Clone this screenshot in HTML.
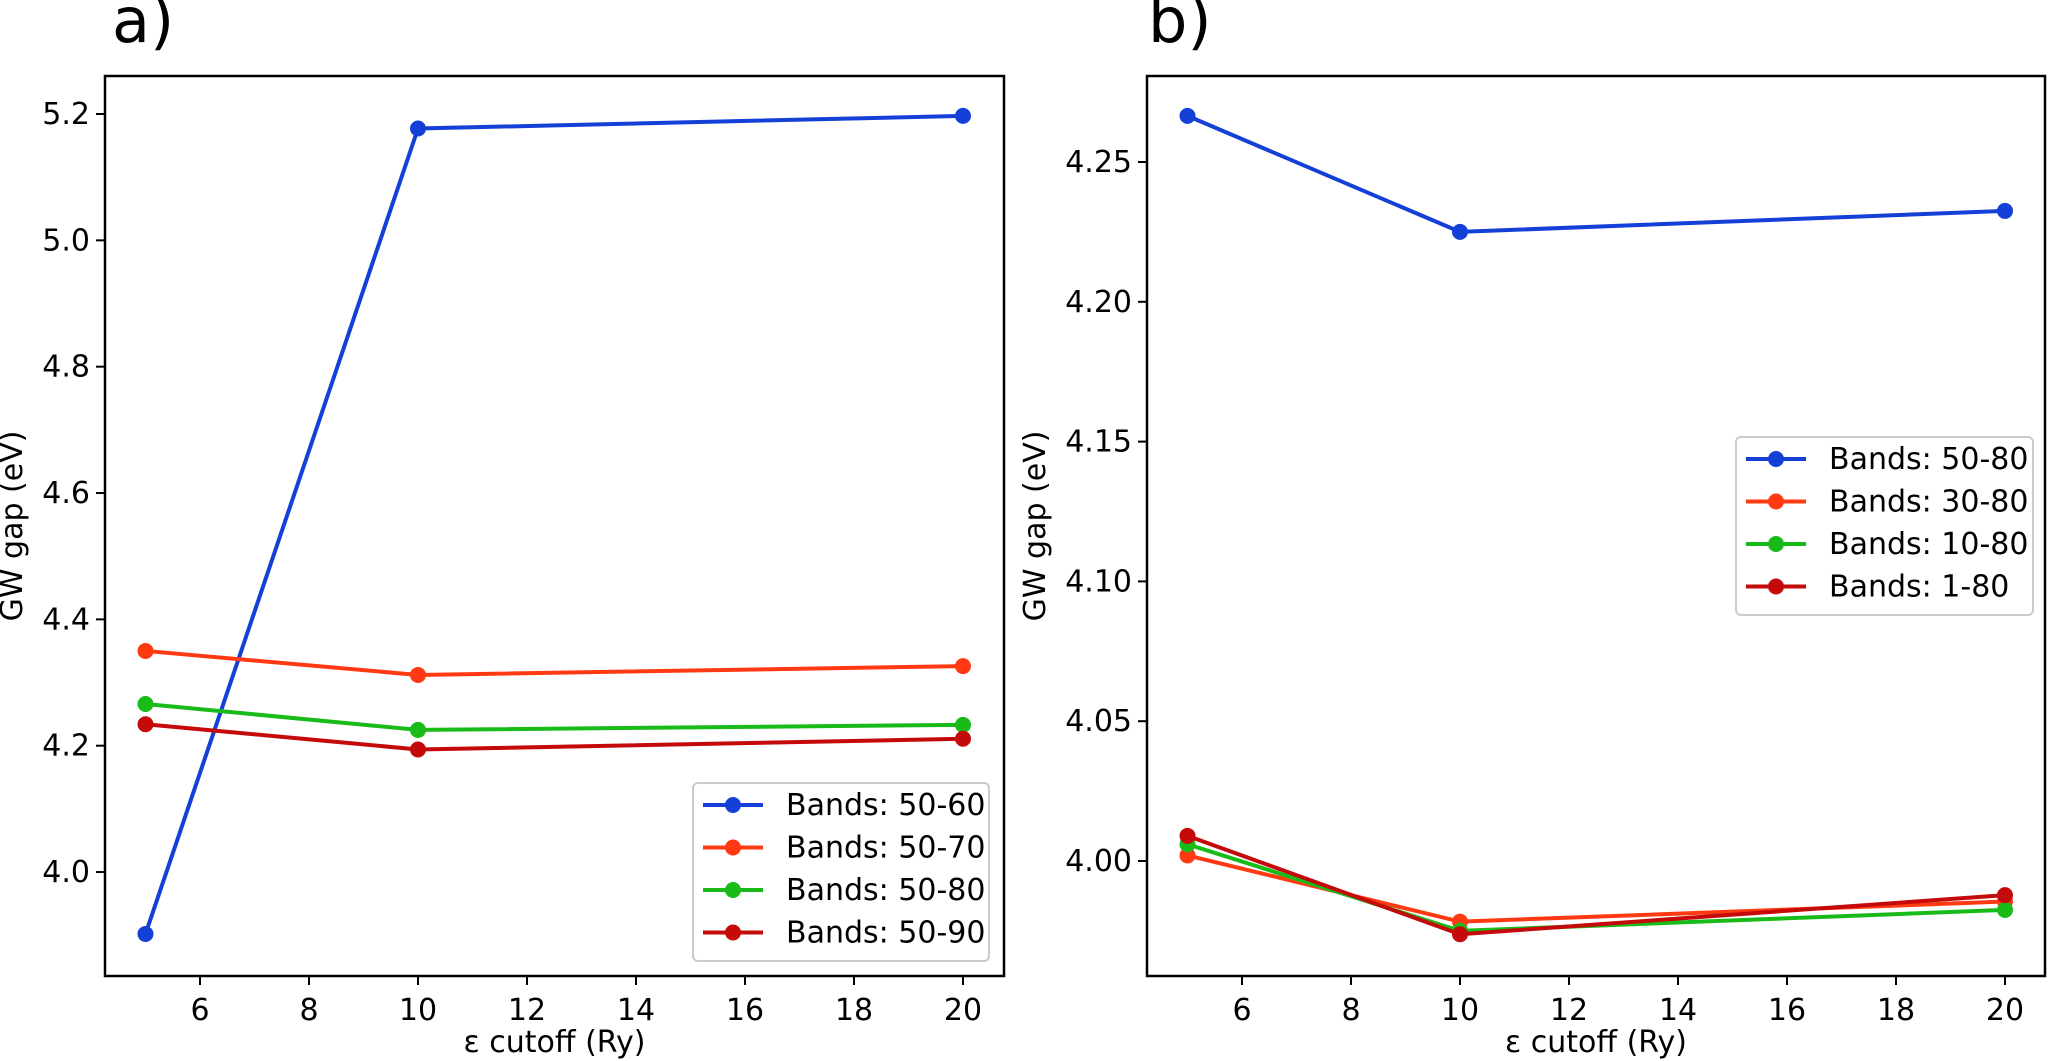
<!DOCTYPE html>
<html><head><meta charset="utf-8"><style>
body{margin:0;background:#fff;}
svg{display:block;font-family:"DejaVu Sans","Liberation Sans",sans-serif;}
</style></head><body>
<svg id="fig" width="2048" height="1061" viewBox="0 0 2048 1061">
<g id="pa"></g>
<g id="pb"></g>
</svg>
<script>
const xCats=[5,10,20];
const xTicks=[6,8,10,12,14,16,18,20];
const aLabels=["Bands: 50-60","Bands: 50-70","Bands: 50-80","Bands: 50-90"];
const a1=[3.902,5.177,5.197];
const a2=[4.350,4.312,4.326];
const a3=[4.266,4.225,4.233];
const a4=[4.234,4.194,4.211];
const aYTicks=[4.0,4.2,4.4,4.6,4.8,5.0,5.2];
const bLabels=["Bands: 50-80","Bands: 30-80","Bands: 10-80","Bands: 1-80"];
const b1=[4.2665,4.2250,4.2325];
const b2=[4.0020,3.9783,3.9855];
const b3=[4.0060,3.9750,3.9825];
const b4=[4.0090,3.9738,3.9878];
const bYTicks=[4.00,4.05,4.10,4.15,4.20,4.25];
const colors=["#1440d8","#ff3a12","#18bb18","#c40a0a"];
const NS="http://www.w3.org/2000/svg";
function mk(p,t,at){const e=document.createElementNS(NS,t);for(const k in at)e.setAttribute(k,at[k]);p.appendChild(e);return e;}
function panel(g,cfg){
 const X=v=>cfg.x0+(v-5)*54.5;
 const Y=v=>cfg.yRef+(v-cfg.vRef)*(-cfg.ppu);
 const L=cfg.left,R=cfg.right,T=76,B=976;
 const lbl=mk(g,'text',{x:cfg.lblX,y:42,'font-size':62});lbl.textContent=cfg.lbl;
 
 
 cfg.series.forEach((s,i)=>{
  const pts=s.map((v,j)=>X(xCats[j])+','+Y(v)).join(' ');
  const pl=mk(g,'polyline',{points:pts,fill:'none',stroke:colors[i],'stroke-width':4});
  
  
  s.forEach((v,j)=>{const c=mk(g,'circle',{cx:X(xCats[j]),cy:Y(v),r:8,fill:colors[i]});
   
   });
 });
 const fr=mk(g,'rect',{x:L,y:T,width:R-L,height:B-T,fill:'none',stroke:'#000','stroke-width':2.5});
 
 
 xTicks.forEach(t=>{mk(g,'line',{x1:X(t),x2:X(t),y1:B,y2:B+9,stroke:'#000','stroke-width':2});
  const tx=mk(g,'text',{x:X(t),y:B+44,'font-size':30,'text-anchor':'middle'});tx.textContent=t;
  
  });
 cfg.yTicks.forEach(t=>{mk(g,'line',{x1:L-9,x2:L,y1:Y(t),y2:Y(t),stroke:'#000','stroke-width':2});
  const tx=mk(g,'text',{x:L-15,y:Y(t)+10,'font-size':30,'text-anchor':'end'});tx.textContent=t.toFixed(cfg.dec);
  
  });
 const xt=mk(g,'text',{x:(L+R)/2,y:1052,'font-size':30,'text-anchor':'middle'});xt.textContent='ε cutoff (Ry)';
 
 
 const yt=mk(g,'text',{x:0,y:0,'font-size':30,'text-anchor':'middle',transform:`translate(${cfg.ytX},526) rotate(-90)`});yt.textContent='GW gap (eV)';
 
 
 const lg=cfg.lg;
 const box=mk(g,'rect',{x:lg.x,y:lg.y,width:lg.w,height:lg.h,rx:5,fill:'#fff','fill-opacity':0.85,stroke:'#c8cccc','stroke-width':2});
 
 
 cfg.labels.forEach((s,i)=>{const cy=lg.y+22+i*42.5;
  mk(g,'line',{x1:lg.x+10,x2:lg.x+70,y1:cy,y2:cy,stroke:colors[i],'stroke-width':4});
  mk(g,'circle',{cx:lg.x+40,cy:cy,r:8,fill:colors[i]});
  const t=mk(g,'text',{x:lg.x+93,y:cy+10,'font-size':30});t.textContent=s;
  
  });
}
panel(document.getElementById('pa'),{x0:145.5,left:105,right:1004,yRef:114,vRef:5.2,ppu:631.7,yTicks:aYTicks,dec:1,lbl:'a)',lblX:112,ytX:22,
 series:[a1,a2,a3,a4],labels:aLabels,lg:{x:693,y:783,w:296,h:178}});
panel(document.getElementById('pb'),{x0:1187.5,left:1147,right:2045,yRef:162,vRef:4.25,ppu:2796,yTicks:bYTicks,dec:2,lbl:'b)',lblX:1148,ytX:1045,
 series:[b1,b2,b3,b4],labels:bLabels,lg:{x:1736,y:437,w:297,h:178}});
</script>
</body></html>
